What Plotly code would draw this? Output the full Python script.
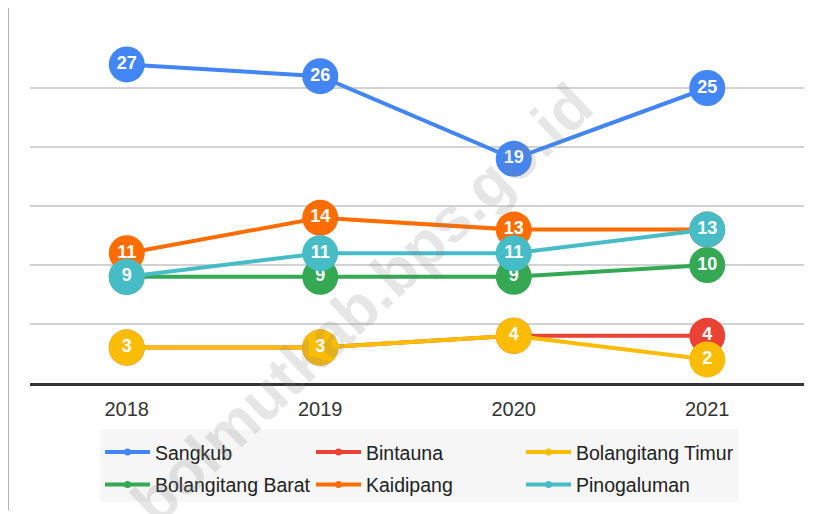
import plotly.graph_objects as go

years = ["2018", "2019", "2020", "2021"]
sangkub = [27, 26, 19, 25]
bintauna = [3, 3, 4, 4]
bolangitang_timur = [3, 3, 4, 2]
bolangitang_barat = [9, 9, 9, 10]
kaidipang = [11, 14, 13, 13]
pinogaluman = [9, 11, 11, 13]

names = ["Sangkub", "Bintauna", "Bolangitang Timur",
         "Bolangitang Barat", "Kaidipang", "Pinogaluman"]
values = [sangkub, bintauna, bolangitang_timur,
          bolangitang_barat, kaidipang, pinogaluman]
colors = ["#4285F4", "#EA4335", "#FBBC04", "#34A853", "#FF6D01", "#46BDC6"]

# page offset of the figure inside the browser page
DX, DY = 8, 6
W, H = 823 - DX, 514 - DY
ML, MR, MT, MB = 30 - DX, 19, 27 - DY, 129
pw = W - ML - MR
ph = H - MT - MB


def px_x(p):
    return (p - DX - ML) / pw


def px_y(p):
    return (H - MB - (p - DY)) / ph


fig = go.Figure()

for n, v, c in zip(names, values, colors):
    fig.add_trace(go.Scatter(
        x=years, y=v, name=n, mode="lines+markers+text",
        text=[str(a) for a in v], textposition="middle center",
        textfont=dict(color="white", size=18, family="Liberation Sans, Arial", weight="bold"),
        line=dict(color=c, width=4),
        marker=dict(color=c, size=36),
        showlegend=False, cliponaxis=False, hoverinfo="skip"))

legend_cols = [100, 311, 521]
legend_rows = [455, 488]
legend_common = dict(orientation="h", bgcolor="rgba(0,0,0,0)", borderwidth=0,
                     font=dict(size=19.5, color="#222222", family="Liberation Sans, Arial"),
                     xanchor="left", yanchor="middle", itemwidth=45)
legend_layout = {}
for i, (n, c) in enumerate(zip(names, colors)):
    lid = "legend" if i == 0 else "legend%d" % (i + 1)
    fig.add_trace(go.Scatter(
        x=[None], y=[None], name=n, mode="lines+markers",
        line=dict(color=c, width=4), marker=dict(color=c, size=7),
        showlegend=True, legend=lid))
    legend_layout[lid] = dict(x=px_x(legend_cols[i % 3]), y=px_y(legend_rows[i // 3]),
                              **legend_common)

# legend background
fig.add_shape(type="rect", xref="paper", yref="paper",
              x0=px_x(100), x1=px_x(738), y0=px_y(505), y1=px_y(432),
              fillcolor="#f6f6f6", line=dict(width=0), layer="below")
# darker gridline at 5
fig.add_shape(type="line", xref="paper", yref="y", x0=0, x1=1, y0=5, y1=5,
              line=dict(color="#9a9a9a", width=2), layer="below")
# left frame line
fig.add_shape(type="line", xref="paper", yref="paper",
              x0=px_x(8), x1=px_x(8), y0=px_y(514), y1=px_y(0),
              line=dict(color="#b5b5b5", width=2))

fig.add_annotation(text="bolmutkab.bps.go.id", xref="paper", yref="paper",
                   x=px_x(362), y=px_y(305), xanchor="center", yanchor="middle",
                   showarrow=False, textangle=-43.5,
                   font=dict(size=62, color="rgba(128,128,128,0.2)",
                             family="Liberation Sans, Arial", weight="bold"))

fig.update_layout(
    width=W, height=H,
    margin=dict(l=ML, r=MR, t=MT, b=MB, pad=0),
    paper_bgcolor="white", plot_bgcolor="white",
    font=dict(family="Liberation Sans, Arial"),
    xaxis=dict(type="category", range=[-0.5, 3.5], showgrid=False,
               showline=True, linecolor="#333333", linewidth=3,
               tickfont=dict(size=20, color="#333333"), ticks="",
               ticklabelstandoff=6),
    yaxis=dict(range=[0, 30], dtick=5, showticklabels=False,
               gridcolor="#d2d2d2", gridwidth=1.5, zeroline=False),
    **legend_layout,
)

fig.write_html("out.html")
